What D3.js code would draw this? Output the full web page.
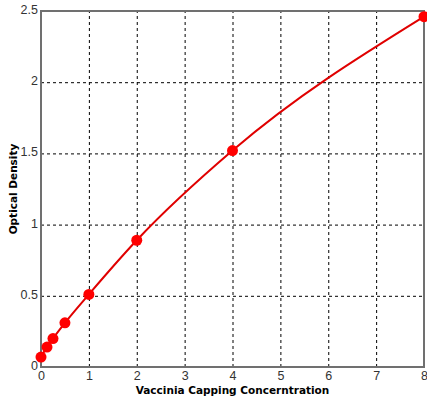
<!DOCTYPE html>
<html>
<head>
<meta charset="utf-8">
<script src="https://cdn.jsdelivr.net/npm/d3@7"></script>
<style>
  body { margin: 0; background: #fff; }
  .grid line { stroke: #000; stroke-dasharray: 3,3; stroke-width: 1; }
  .grid path { display: none; }
  .tick text { font-family: "Liberation Sans", Arial, sans-serif; font-size: 12.5px; fill: #333; }
  .axis-title { font-family: "DejaVu Sans", sans-serif; font-weight: bold; font-size: 10.5px; fill: #000; }
</style>
</head>
<body>
<div id="chart"></div>
<script>
var concentration = [0, 0.125, 0.25, 0.5, 1, 2, 4, 8];
var density = [0.07, 0.14, 0.2, 0.31, 0.51, 0.89, 1.52, 2.46];
var xTicks = [0, 1, 2, 3, 4, 5, 6, 7, 8];
var yTicks = [0, 0.5, 1, 1.5, 2, 2.5];

var margin = {top: 11, right: 3, bottom: 34, left: 41},
    width = 427 - margin.left - margin.right,
    height = 401 - margin.top - margin.bottom;

var data = concentration.map(function(c, i) { return {x: c, y: density[i]}; });

var x = d3.scaleLinear().domain([0, 8]).range([0, width]);
var y = d3.scaleLinear().domain([0, 2.5]).range([height, 0]);

var svg = d3.select("#chart")
    .append("svg")
        .attr("width", 427)
        .attr("height", 401)
    .append("g")
        .attr("transform", "translate(" + margin.left + "," + margin.top + ")");

// grid
svg.append("g")
    .attr("class", "grid")
    .attr("transform", "translate(0," + height + ")")
    .call(d3.axisBottom(x).tickValues(xTicks.slice(1, -1)).tickSize(-height).tickFormat(""));
svg.append("g")
    .attr("class", "grid")
    .call(d3.axisLeft(y).tickValues(yTicks.slice(1, -1)).tickSize(-width).tickFormat(""));

// frame
svg.append("rect")
    .attr("width", width)
    .attr("height", height)
    .attr("fill", "none")
    .attr("stroke", "#707070")
    .attr("stroke-width", 2);

// axis labels
var xAxis = svg.append("g")
    .attr("transform", "translate(0," + height + ")")
    .call(d3.axisBottom(x).tickValues(xTicks).tickSize(0).tickPadding(4).tickFormat(d3.format("")));
xAxis.select(".domain").remove();

var yAxis = svg.append("g")
    .call(d3.axisLeft(y).tickValues(yTicks).tickSize(0).tickPadding(3).tickFormat(d3.format("")));
yAxis.select(".domain").remove();
yAxis.selectAll(".tick text").attr("dy", "0.2em");

// curve
var line = d3.line()
    .x(function(d) { return x(d.x); })
    .y(function(d) { return y(d.y); })
    .curve(d3.curveMonotoneX);

svg.append("path")
    .attr("d", line(data))
    .attr("fill", "none")
    .attr("stroke", "#e00000")
    .attr("stroke-width", 2);

svg.selectAll(".pt")
    .data(data)
    .enter().append("circle")
    .attr("class", "pt")
    .attr("cx", function(d) { return x(d.x); })
    .attr("cy", function(d) { return y(d.y); })
    .attr("r", 5.5)
    .attr("fill", "#ff0000");

// titles
svg.append("text")
    .attr("class", "axis-title")
    .attr("x", width / 2)
    .attr("y", height + 27)
    .attr("text-anchor", "middle")
    .text("Vaccinia Capping Concerntration");

svg.append("text")
    .attr("class", "axis-title")
    .attr("transform", "rotate(-90)")
    .attr("x", -height / 2)
    .attr("y", -24)
    .attr("text-anchor", "middle")
    .text("Optical Density");
</script>
</body>
</html>
